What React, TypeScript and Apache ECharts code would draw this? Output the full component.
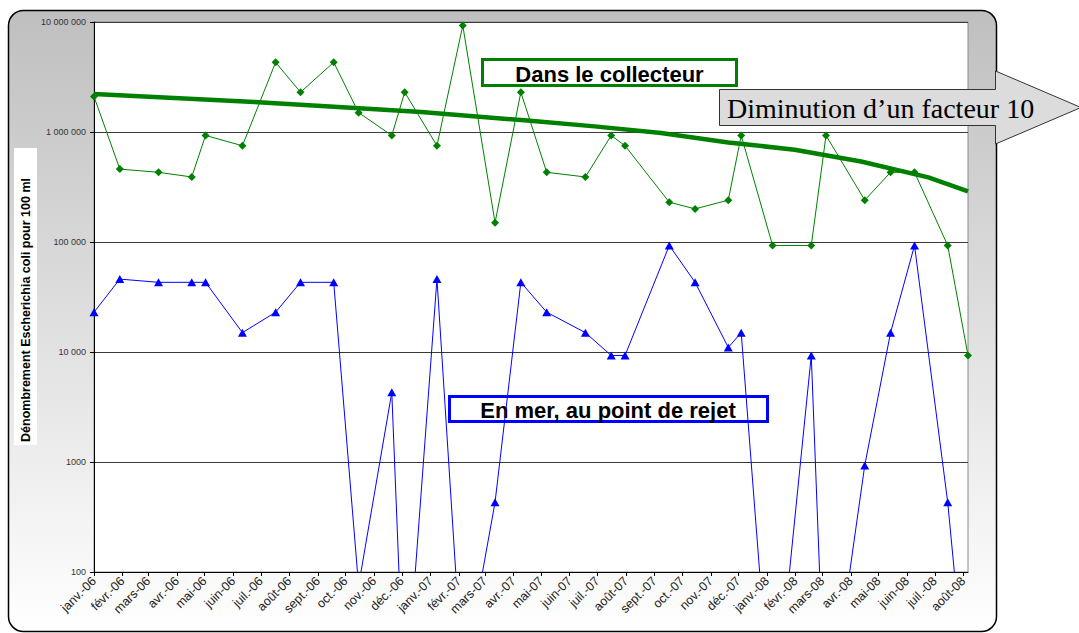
import React, { useEffect, useRef } from 'react';
import * as echarts from 'echarts';

// Sampling dates (shared by both series)
const dates = [
  '2006-01-01', '2006-01-29', '2006-03-12', '2006-04-17', '2006-05-02', '2006-06-11',
  '2006-07-17', '2006-08-13', '2006-09-18', '2006-10-15', '2006-11-20', '2006-12-04',
  '2007-01-08', '2007-02-05', '2007-03-12', '2007-04-09', '2007-05-07', '2007-06-18',
  '2007-07-16', '2007-07-31', '2007-09-17', '2007-10-15', '2007-11-20', '2007-12-04',
  '2008-01-07', '2008-02-18', '2008-03-05', '2008-04-16', '2008-05-14', '2008-06-09',
  '2008-07-15', '2008-08-06',
];

// Dans le collecteur (E. coli / 100 ml)
const collecteur = [
  2100000, 460000, 430000, 390000, 930000, 750000,
  4300000, 2300000, 4300000, 1500000, 930000, 2300000,
  750000, 9300000, 150000, 2300000, 430000, 390000,
  930000, 750000, 230000, 200000, 240000, 930000,
  93000, 93000, 930000, 240000, 430000, 430000,
  93000, 9300,
];

// En mer, au point de rejet (E. coli / 100 ml)
const enMer = [
  23000, 46000, 43000, 43000, 43000, 15000,
  23000, 43000, 43000, 75, 4300, 5,
  46000, 10, 430, 43000, 23000, 15000,
  9300, 9300, 93000, 43000, 11000, 15000,
  3, 9300, 3, 930, 15000, 93000,
  430, 5,
];

// Trend line (collecteur)
const trendDates = [
  '2006-01-01', '2006-06-24', '2006-10-11', '2006-12-22', '2007-04-16', '2007-06-28',
  '2007-09-08', '2007-11-20', '2008-01-31', '2008-04-12', '2008-06-24', '2008-08-06',
];
const trendValues = [
  2210000, 1870000, 1650000, 1520000, 1270000, 1125000,
  979000, 804000, 690000, 540000, 387000, 288000,
];

const monthNames = ['janv.', 'févr.', 'mars', 'avr.', 'mai', 'juin', 'juil.', 'août', 'sept.', 'oct.', 'nov.', 'déc.'];
const yTickValues = [100, 1000, 10000, 100000, 1000000, 10000000];
const yTickLabels = ['100', '1000', '10 000', '100 000', '1 000 000', '10 000 000'];

const axisStart = '2006-01-01';
const axisEnd = '2008-08-06';

const DAY = 86400000;
const parse = (s: string) => {
  const [y, m, d] = s.split('-').map(Number);
  return new Date(y, m - 1, d).getTime();
};

const SANS = '"Liberation Sans", Arial, Helvetica, sans-serif';
const SERIF = '"Liberation Serif", "Times New Roman", serif';

export default function App() {
  const ref = useRef<HTMLDivElement>(null);

  useEffect(() => {
    if (!ref.current) return;
    const chart = echarts.init(ref.current, undefined, { renderer: 'svg' });

    const option: any = {
      animation: false,
      grid: {
        left: 94, right: 111, top: 22, bottom: 61,
        show: true, borderColor: '#8a8a8a', borderWidth: 1, backgroundColor: '#ffffff',
      },
      xAxis: {
        type: 'time',
        min: parse(axisStart),
        max: parse(axisEnd),
        minInterval: 28 * DAY,
        maxInterval: 31 * DAY,
        splitLine: { show: false },
        axisLine: { show: true, lineStyle: { color: '#000', width: 1 } },
        axisTick: { show: true, length: 4, lineStyle: { color: '#000' } },
        axisLabel: {
          rotate: 45,
          fontSize: 12.5,
          fontFamily: SANS,
          color: '#222',
          margin: 7,
          showMaxLabel: false,
          hideOverlap: false,
          formatter: (v: number) => {
            const d = new Date(v);
            return monthNames[d.getMonth()] + '-' + String(d.getFullYear()).slice(2);
          },
        },
      },
      yAxis: {
        type: 'log',
        logBase: 10,
        min: 100,
        max: 10000000,
        axisLine: { show: true, lineStyle: { color: '#000', width: 1 } },
        axisTick: { show: true, length: 4, lineStyle: { color: '#000' } },
        axisLabel: {
          fontSize: 9,
          fontFamily: SANS,
          color: '#333',
          margin: 8,
          formatter: (v: number) => {
            const i = yTickValues.findIndex((t) => Math.abs(Math.log10(t) - Math.log10(v)) < 1e-6);
            return i >= 0 ? yTickLabels[i] : '';
          },
        },
        splitLine: { show: true, lineStyle: { color: '#3a3a3a', width: 1 } },
      },
      series: [
        {
          name: 'Dans le collecteur',
          type: 'line',
          data: dates.map((d, i) => [parse(d), collecteur[i]]),
          symbol: 'diamond',
          symbolSize: 8,
          lineStyle: { color: '#008000', width: 1 },
          itemStyle: { color: '#008000' },
          z: 3,
        },
        {
          name: 'En mer, au point de rejet',
          type: 'line',
          data: dates.map((d, i) => [parse(d), enMer[i]]),
          symbol: 'triangle',
          symbolSize: [9, 8],
          lineStyle: { color: '#0000ff', width: 1 },
          itemStyle: { color: '#0000ff' },
          z: 3,
        },
        {
          name: 'Tendance',
          type: 'line',
          data: trendDates.map((d, i) => [parse(d), trendValues[i]]),
          symbol: 'none',
          lineStyle: { color: '#008000', width: 4.5 },
          z: 4,
        },
      ],
      graphic: [
        {
          type: 'rect', z: -10,
          shape: { x: 8.5, y: 10.5, width: 988, height: 621, r: 15 },
          style: {
            fill: new echarts.graphic.LinearGradient(0, 0, 0, 1, [
              { offset: 0, color: '#bfbfbf' },
              { offset: 1, color: '#ffffff' },
            ]),
            stroke: '#000', lineWidth: 1.5,
          },
        },
        {
          type: 'rect', z: -5,
          shape: { x: 14, y: 148, width: 23, height: 297 },
          style: { fill: '#ffffff' },
        },
        {
          type: 'text', z: -4,
          x: 26, y: 310, rotation: Math.PI / 2,
          style: {
            text: 'Dénombrement Escherichia coli pour 100 ml',
            fill: '#000',
            font: 'bold 12.5px ' + SANS,
            align: 'center', verticalAlign: 'middle',
            textAlign: 'center', textVerticalAlign: 'middle',
          },
        },
        {
          type: 'rect', z: 1,
          shape: { x: 482.5, y: 59.5, width: 254, height: 26 },
          style: { fill: '#ffffff', stroke: '#008000', lineWidth: 3 },
        },
        {
          type: 'text', z: 1,
          x: 609.5, y: 74,
          style: {
            text: 'Dans le collecteur',
            fill: '#000',
            font: 'bold 22px ' + SANS,
            align: 'center', verticalAlign: 'middle',
            textAlign: 'center', textVerticalAlign: 'middle',
          },
        },
        {
          type: 'rect', z: 1,
          shape: { x: 449.5, y: 396.5, width: 318, height: 25 },
          style: { fill: '#ffffff', stroke: '#0000ff', lineWidth: 3 },
        },
        {
          type: 'text', z: 1,
          x: 608, y: 410,
          style: {
            text: 'En mer, au point de rejet',
            fill: '#000',
            font: 'bold 22px ' + SANS,
            align: 'center', verticalAlign: 'middle',
            textAlign: 'center', textVerticalAlign: 'middle',
          },
        },
        {
          type: 'polygon', z: 10,
          shape: {
            points: [
              [719.5, 89.5], [995.5, 89.5], [995.5, 71], [1081, 107.5],
              [995.5, 144], [995.5, 125.5], [719.5, 125.5],
            ],
          },
          style: { fill: '#dcdcdc', stroke: '#333', lineWidth: 1 },
        },
        {
          type: 'text', z: 11,
          x: 727, y: 108,
          style: {
            text: 'Diminution d’un facteur 10',
            fill: '#000',
            font: '28px ' + SERIF,
            align: 'left', verticalAlign: 'middle',
            textAlign: 'left', textVerticalAlign: 'middle',
          },
        },
      ],
    };

    chart.setOption(option);
    return () => chart.dispose();
  }, []);

  return (
    <div
      ref={ref}
      style={{ position: 'absolute', left: 0, top: 0, width: 1079, height: 633, background: '#ffffff' }}
    />
  );
}
